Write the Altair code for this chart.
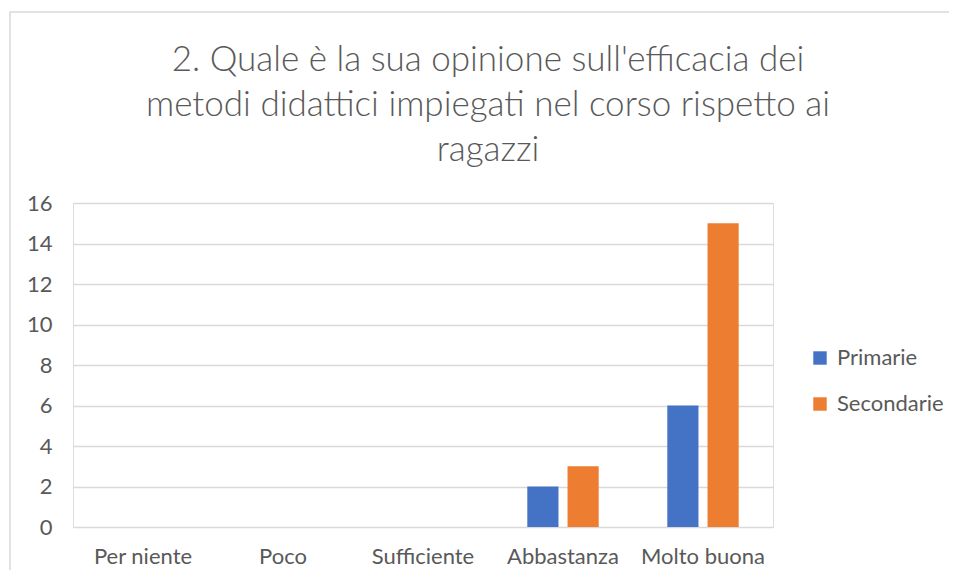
import altair as alt
import pandas as pd

categories = ["Per niente", "Poco", "Sufficiente", "Abbastanza", "Molto buona"]
series_names = ["Primarie", "Secondarie"]
primarie = [0, 0, 0, 2, 6]
secondarie = [0, 0, 0, 3, 15]
y_ticks = [0, 2, 4, 6, 8, 10, 12, 14, 16]
colors = ["#4472C4", "#ED7D31"]
title_lines = [
    "2. Quale è la sua opinione sull'efficacia dei",
    "metodi didattici impiegati nel corso rispetto ai",
    "ragazzi",
]

rows = []
for i, c in enumerate(categories):
    rows.append({"categoria": c, "serie": series_names[0], "valore": primarie[i]})
    rows.append({"categoria": c, "serie": series_names[1], "valore": secondarie[i]})
df = pd.DataFrame(rows)

FONT = "Lato"
GRAY = "#595959"

bars = alt.Chart(df).mark_bar().encode(
    x=alt.X("categoria:N", sort=categories, title=None,
            scale=alt.Scale(paddingInner=0.49, paddingOuter=0.245),
            axis=alt.Axis(labelAngle=0, domain=False, ticks=False, labelPadding=19,
                          labelFontSize=22, labelColor=GRAY, labelFont=FONT, grid=False)),
    xOffset=alt.XOffset("serie:N", sort=series_names,
                        scale=alt.Scale(paddingInner=0.225, paddingOuter=0)),
    y=alt.Y("valore:Q", title=None,
            scale=alt.Scale(domain=[0, 16]),
            axis=alt.Axis(values=y_ticks, domain=False, ticks=False, labelPadding=21,
                          labelFontSize=22, labelColor=GRAY, labelFont=FONT,
                          gridColor="#D9D9D9", gridWidth=1.5)),
    color=alt.Color("serie:N", sort=series_names,
                    scale=alt.Scale(domain=series_names, range=colors),
                    legend=alt.Legend(title=None, orient="none", legendX=736, legendY=144,
                                      symbolType="square", symbolSize=180,
                                      symbolStrokeWidth=0, labelFontSize=22,
                                      labelColor=GRAY, labelFont=FONT, rowPadding=24,
                                      labelOffset=6)),
)

frame = alt.Chart(alt.Data(values=[{"a": 1}])).mark_rect(
    fill=None, stroke="#D9D9D9", strokeWidth=1.5
).encode(
    x=alt.value(-63), x2=alt.value(1200), y=alt.value(-191), y2=alt.value(1200)
)

chart = alt.layer(frame, bars).properties(
    width=700,
    height=324,
    title=alt.TitleParams(text=title_lines, anchor="middle", fontSize=35, font=FONT,
                          fontWeight=300, color=GRAY, lineHeight=45, dx=65,
                          offset=38, dy=195),
    padding={"left": 65, "top": 195, "right": 176, "bottom": 43},
    autosize=alt.AutoSizeParams(type="none"),
).configure_view(stroke=None).configure(background="white")

chart.save("out.html", embed_options={"renderer": "svg", "actions": False})
